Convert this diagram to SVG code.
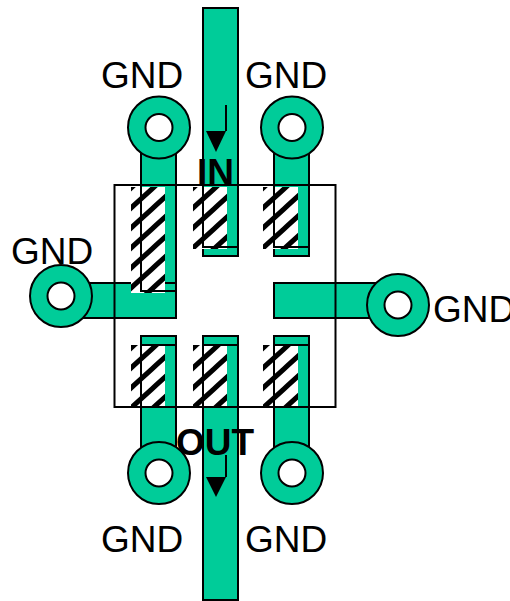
<svg xmlns="http://www.w3.org/2000/svg" width="510" height="601" viewBox="0 0 510 601">
<style>
.t{fill:#00cc99;stroke:#000;stroke-width:2}
.o{fill:none;stroke:#000;stroke-width:2}
.k{fill:#000}
text{font-family:"Liberation Sans",Arial,sans-serif;font-size:37px;fill:#000}
.b{font-weight:bold}
</style>
<defs>
<pattern id="h1" patternUnits="userSpaceOnUse" width="22" height="20" patternTransform="translate(131 187)">
<rect width="22" height="20" fill="#fff"/>
<path d="M-2 2.820L24 -20.800M-2 22.820L24 -0.820M-2 42.820L24 19.180" stroke="#000" stroke-width="5" fill="none"/>
</pattern>
<pattern id="h2" href="#h1" patternTransform="translate(193 187)"/>
<pattern id="h3" href="#h1" patternTransform="translate(263 187)"/>
<g id="pad"><circle r="31" class="t"/><circle r="13.500" fill="#fff" stroke="#000" stroke-width="2"/></g>
</defs>
<g id="traces">
<rect class="t" x="141" y="128" width="35" height="163"/>
<rect class="t" x="203" y="8" width="35" height="248"/>
<rect class="t" x="274" y="128" width="35" height="128"/>
<rect class="t" x="61" y="283" width="115" height="35"/>
<rect class="t" x="274" y="283" width="124" height="35"/>
<rect class="t" x="141" y="336" width="35" height="138"/>
<rect class="t" x="203" y="336" width="35" height="264"/>
<rect class="t" x="274" y="336" width="35" height="138"/>
</g>
<g id="hatches">
<rect fill="url(#h1)" x="131" y="187" width="34" height="106"/>
<rect fill="url(#h2)" x="193" y="187" width="34" height="62"/>
<rect fill="url(#h3)" x="263" y="187" width="35" height="62"/>
<rect fill="url(#h1)" x="131" y="345" width="34" height="63"/>
<rect fill="url(#h2)" x="193" y="345" width="34" height="63"/>
<rect fill="url(#h3)" x="263" y="345" width="35" height="63"/>
</g>
<g id="connectors">
<path class="o" d="M141 180V291H176V180M165 283H176M203 180V247H238V180M274 180V247H309V180M141 345H176M203 345H238M274 345H309M141 336V408M176 336V408M203 336V408M238 336V408M274 336V408M309 336V408"/>
<rect class="o" x="114.500" y="185" width="221" height="222"/>
</g>
<g id="arrow-in"><path class="o" d="M226 105V131"/><path class="k" d="M206 131H226L216 152Z"/></g>
<g id="arrow-out"><path class="o" d="M226 455V477"/><path class="k" d="M206 477H226L216 497Z"/></g>
<g id="gnd-tl"><use href="#pad" x="159" y="127.500"/><text x="101" y="88">GND</text></g>
<g id="gnd-tr"><use href="#pad" x="292" y="127.500"/><text x="245" y="88">GND</text></g>
<g id="gnd-l"><use href="#pad" x="61" y="296"/><text x="11" y="264">GND</text></g>
<g id="gnd-r"><use href="#pad" x="398" y="305"/><text x="433" y="322">GND</text></g>
<g id="gnd-bl"><use href="#pad" x="159" y="473"/><text x="101" y="552">GND</text></g>
<g id="gnd-br"><use href="#pad" x="292" y="473"/><text x="245" y="552">GND</text></g>
<g id="in"><text class="b" x="197" y="185">IN</text></g>
<g id="out"><text class="b" x="176" y="455">OUT</text></g>
</svg>
